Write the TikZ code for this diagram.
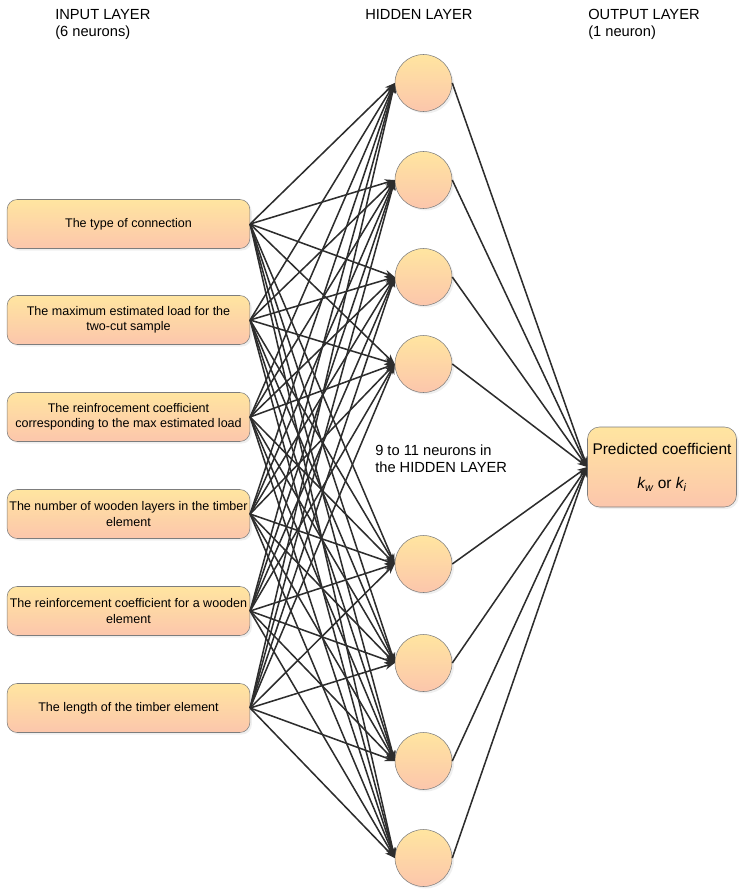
\documentclass[tikz,border=0pt]{standalone}
\usepackage{fontspec}
\setmainfont{Liberation Sans}
\usepackage{xcolor}
\definecolor{nntop}{RGB}{255,229,160}
\definecolor{nnbot}{RGB}{252,198,172}
\definecolor{nnedge}{RGB}{125,125,125}
\definecolor{nnline}{RGB}{45,45,45}
\usetikzlibrary{arrows.meta,positioning,shadows}

\begin{document}
\begin{tikzpicture}[
  x=0.75pt, y=-0.75pt,
  every node/.style={font=\fontsize{11}{12.5}\selectfont},
  inbox/.style={draw=nnedge,rounded corners=7.5pt,minimum width=182pt,minimum height=36.75pt,
                align=center,inner sep=0pt,top color=nntop,bottom color=nnbot,
                font=\fontsize{9.4}{11.3}\selectfont,
                drop shadow={fill=black!12,shadow xshift=1.5pt,shadow yshift=-1.5pt}},
  neuron/.style={circle,draw=nnedge,minimum size=42.75pt,inner sep=0pt,
                 top color=nntop,bottom color=nnbot,
                 drop shadow={fill=black!12,shadow xshift=1.5pt,shadow yshift=-1.5pt}},
  outbox/.style={draw=nnedge,rounded corners=9pt,minimum width=111.75pt,minimum height=60pt,
                 align=center,inner sep=0pt,top color=nntop,bottom color=nnbot,
                 font=\fontsize{11.6}{13}\selectfont,
                 drop shadow={fill=black!12,shadow xshift=1.5pt,shadow yshift=-1.5pt}},
  title/.style={anchor=north west,align=left,inner sep=0pt},
  arr/.style={-{Stealth[length=7.5pt,width=5.5pt]},line width=1.15pt,nnline},
]
  \useasboundingbox (0,0) rectangle (745,896);

  % Layer titles
  \node[title] (tin) at (55,9) {INPUT LAYER\\(6 neurons)};
  \node[title] (thid) at (365,9) {HIDDEN LAYER};
  \node[title] (tout) at (588,9) {OUTPUT LAYER\\(1 neuron)};

  % Input layer
  \node[inbox] (in1) at (128.5,224) {The type of connection};
  \node[inbox] (in2) at (128.5,320) {The maximum estimated load for the\\two-cut sample};
  \node[inbox] (in3) at (128.5,417) {The reinfrocement coefficient\\corresponding to the max estimated load};
  \node[inbox] (in4) at (128.5,514) {The number of wooden layers in the timber\\element};
  \node[inbox] (in5) at (128.5,611) {The reinforcement coefficient for a wooden\\element};
  \node[inbox] (in6) at (128.5,708) {The length of the timber element};

  % Hidden layer
  \node[neuron] (hid1) at (423.5,83) {};
  \node[neuron] (hid2) at (423.5,180) {};
  \node[neuron] (hid3) at (423.5,277) {};
  \node[neuron] (hid4) at (423.5,364) {};
  \node[neuron] (hid5) at (423.5,564) {};
  \node[neuron] (hid6) at (423.5,663) {};
  \node[neuron] (hid7) at (423.5,761) {};
  \node[neuron] (hid8) at (423.5,858) {};
  \node[title] (note) at (375,445) {9 to 11 neurons in\\the HIDDEN LAYER};

  % Output layer
  \node[outbox] (out) at (662,467)
    {Predicted coefficient\\[13pt]\textit{k\textsubscript{w}} or \textit{k\textsubscript{i}}};

  % Arrows
  \foreach \i in {1,...,6}
    \foreach \j in {1,...,8}
      \draw[arr] (in\i.east) -- (hid\j.west);
  \foreach \j in {1,...,8}
    \draw[arr] (hid\j.east) -- (out.west);
\end{tikzpicture}
\end{document}
